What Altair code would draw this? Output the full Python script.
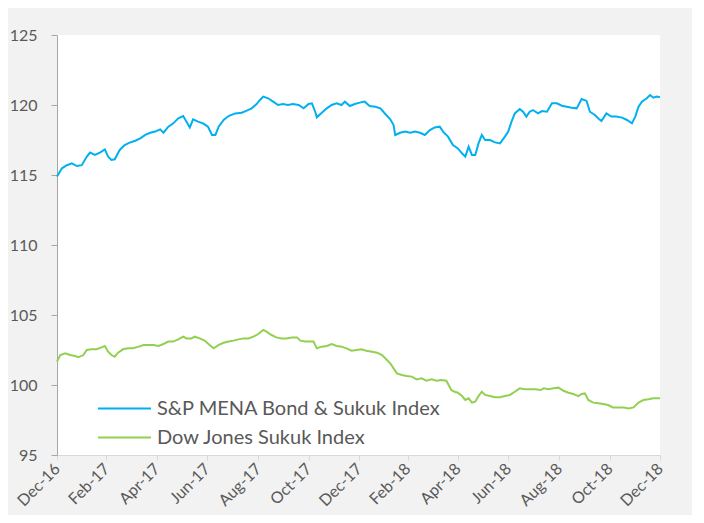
import altair as alt
import pandas as pd

START = "2016-12-30"
SERIES = ["S&P MENA Bond & Sukuk Index", "Dow Jones Sukuk Index"]
COLORS = ["#00b0f0", "#92d050"]

# days since START, index level
blue_days = [0, 6, 12, 18, 24, 30, 36, 40, 46, 52, 58, 62, 66, 70, 76, 82, 88, 95, 101, 107,
             113, 119, 125, 129, 135, 141, 147, 153, 157, 161, 165, 171, 177, 183, 188, 192, 196, 202, 208, 216,
             224, 230, 236, 242, 246, 250, 256, 262, 268, 274, 280, 286, 293, 299, 305, 309, 313, 315, 321, 327,
             333, 339, 345, 349, 355, 361, 367, 373, 379, 386, 392, 398, 404, 408, 410, 416, 422, 428, 434, 440,
             446, 452, 458, 464, 468, 474, 480, 486, 491, 495, 499, 503, 507, 511, 515, 519, 525, 531, 537, 543,
             547, 551, 555, 561, 565, 569, 573, 577, 583, 588, 594, 600, 606, 612, 618, 624, 630, 636, 642, 646,
             652, 656, 660, 666, 672, 678, 685, 691, 697, 701, 705, 709, 715, 719, 723, 727, 731]
blue_vals = [114.9, 115.48, 115.7, 115.83, 115.64, 115.7, 116.3, 116.6, 116.43, 116.6, 116.83, 116.31, 116.07, 116.12, 116.79, 117.14, 117.31, 117.45, 117.62, 117.86,
             118.02, 118.1, 118.26, 118.02, 118.45, 118.69, 119.05, 119.21, 118.81, 118.4, 118.98, 118.81, 118.69, 118.45, 117.86, 117.86, 118.45, 118.93, 119.21, 119.4,
             119.45, 119.6, 119.76, 120.07, 120.36, 120.6, 120.48, 120.24, 120.0, 120.07, 120.0, 120.07, 120.0, 119.76, 120.07, 120.12, 119.52, 119.12, 119.45, 119.76,
             120.0, 120.12, 120.0, 120.24, 119.93, 120.07, 120.17, 120.24, 119.93, 119.88, 119.76, 119.36, 118.98, 118.57, 117.86, 118.02, 118.1, 118.02, 118.1, 118.02,
             117.86, 118.21, 118.4, 118.45, 118.1, 117.74, 117.14, 116.9, 116.55, 116.31, 117.02, 116.43, 116.43, 117.26, 117.86, 117.5, 117.5, 117.33, 117.26, 117.74,
             118.1, 118.81, 119.4, 119.71, 119.52, 119.17, 119.52, 119.64, 119.4, 119.57, 119.52, 120.12, 120.12, 119.95, 119.88, 119.81, 119.76, 120.43, 120.29, 119.52,
             119.29, 119.05, 118.86, 119.4, 119.17, 119.17, 119.1, 118.93, 118.69, 119.17, 119.88, 120.24, 120.48, 120.71, 120.52, 120.6, 120.55]

green_days = [0, 4, 10, 16, 22, 26, 32, 36, 42, 48, 54, 58, 62, 66, 70, 74, 80, 86, 92, 99,
              105, 111, 117, 123, 129, 135, 141, 147, 153, 157, 163, 167, 173, 179, 185, 190, 196, 202, 208, 214,
              220, 226, 232, 238, 244, 250, 254, 260, 266, 272, 278, 285, 291, 295, 301, 307, 311, 315, 321, 327,
              333, 339, 345, 351, 357, 363, 369, 375, 382, 388, 394, 400, 404, 408, 412, 418, 424, 430, 436, 442,
              448, 454, 460, 466, 472, 478, 482, 486, 491, 495, 499, 503, 507, 511, 515, 519, 525, 531, 537, 543,
              549, 555, 561, 567, 573, 580, 586, 590, 596, 602, 608, 614, 620, 626, 632, 636, 640, 644, 650, 656,
              662, 668, 674, 680, 687, 693, 699, 705, 711, 717, 723, 731]
green_vals = [101.67, 102.14, 102.26, 102.14, 102.07, 101.98, 102.14, 102.5, 102.55, 102.55, 102.69, 102.79, 102.38, 102.14, 102.02, 102.31, 102.55, 102.62, 102.62, 102.74,
              102.86, 102.86, 102.86, 102.79, 102.93, 103.1, 103.1, 103.26, 103.45, 103.33, 103.33, 103.45, 103.33, 103.17, 102.86, 102.62, 102.86, 103.02, 103.1, 103.17,
              103.26, 103.33, 103.33, 103.45, 103.64, 103.93, 103.81, 103.57, 103.4, 103.33, 103.33, 103.4, 103.4, 103.17, 103.1, 103.1, 103.1, 102.62, 102.74, 102.79,
              102.93, 102.79, 102.74, 102.62, 102.45, 102.5, 102.55, 102.45, 102.38, 102.31, 102.14, 101.79, 101.55, 101.19, 100.83, 100.71, 100.64, 100.6, 100.4, 100.48,
              100.31, 100.4, 100.31, 100.36, 100.31, 99.64, 99.52, 99.45, 99.21, 98.93, 99.05, 98.74, 98.81, 99.21, 99.52, 99.29, 99.21, 99.12, 99.12, 99.21,
              99.29, 99.52, 99.76, 99.69, 99.69, 99.69, 99.64, 99.76, 99.69, 99.76, 99.81, 99.59, 99.45, 99.36, 99.21, 99.36, 99.4, 98.93, 98.74, 98.69,
              98.64, 98.57, 98.4, 98.4, 98.4, 98.33, 98.4, 98.74, 98.93, 98.98, 99.05, 99.05]

Y_TICKS = [95, 100, 105, 110, 115, 120, 125]
X_TICKS = ["2016-12-30", "2017-02-28", "2017-04-30", "2017-06-30", "2017-08-31", "2017-10-31",
           "2017-12-31", "2018-02-28", "2018-04-30", "2018-06-30", "2018-08-31", "2018-10-31", "2018-12-31"]

start = pd.Timestamp(START)


def frame(name, days, vals):
    return pd.DataFrame({
        "date": [(start + pd.Timedelta(days=d)).strftime("%Y-%m-%d") for d in days],
        "value": vals,
        "series": [name] * len(vals),
    })


FONT = "Lato"
TXT = "#595959"

x_ticks_dt = [alt.DateTime(year=int(s[:4]), month=int(s[5:7]), date=int(s[8:10])) for s in X_TICKS]

x_enc = alt.X("date:T",
              scale=alt.Scale(domain=[x_ticks_dt[0], x_ticks_dt[-1]], nice=False),
              axis=alt.Axis(values=x_ticks_dt, format="%b-%y", title=None, labelAngle=315,
                            labelAlign="right", labelBaseline="middle", labelPadding=6,
                            domainColor="#d9d9d9", tickColor="#d9d9d9", tickSize=5,
                            labelColor=TXT, labelFontSize=16, labelFont=FONT, grid=False))
y_enc = alt.Y("value:Q",
              scale=alt.Scale(domain=[95, 125], nice=False, zero=False),
              axis=alt.Axis(values=Y_TICKS, title=None, domainColor="#a6a6a6", tickColor="#a6a6a6",
                            tickSize=6, labelPadding=14, labelColor=TXT, labelFontSize=16,
                            labelFont=FONT, grid=False))


def layer(name, color, days, vals, legend_y):
    return alt.Chart(frame(name, days, vals)).mark_line(strokeWidth=2).encode(
        x=x_enc,
        y=y_enc,
        color=alt.Color("series:N",
                        scale=alt.Scale(domain=[name], range=[color]),
                        legend=alt.Legend(title=None, orient="none", legendX=40, legendY=legend_y,
                                          symbolType="stroke", symbolSize=2809, symbolStrokeWidth=2,
                                          labelFontSize=20, labelFont=FONT, labelColor=TXT,
                                          labelLimit=0, labelOffset=5)),
    )


chart = alt.layer(
    layer(SERIES[0], COLORS[0], blue_days, blue_vals, 346),
    layer(SERIES[1], COLORS[1], green_days, green_vals, 375),
).resolve_scale(color="independent").properties(
    width=603, height=420,
    autosize=alt.AutoSizeParams(type="none"),
    padding={"left": 49, "top": 27, "right": 32, "bottom": 60},
    background="#f2f2f2",
).configure_view(fill="white", strokeWidth=0)

chart.save("out.html", embed_options={"renderer": "svg", "actions": False})
